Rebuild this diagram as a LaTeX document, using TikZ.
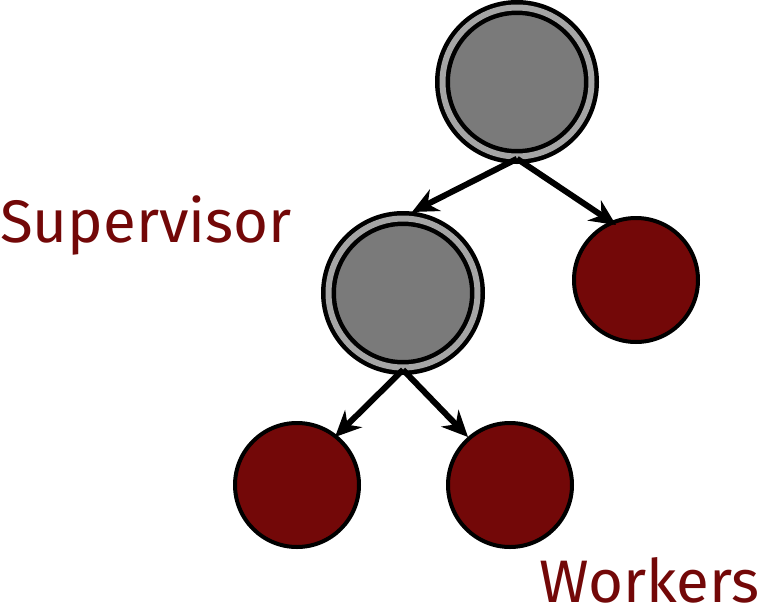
\documentclass[tikz,border=0pt]{standalone}
\usepackage{fontspec}
\setmainfont{Fira Sans}
\usetikzlibrary{arrows.meta}
\definecolor{wred}{RGB}{115,8,8}
\definecolor{sgrey}{RGB}{122,122,122}
\definecolor{sring}{RGB}{165,165,165}
\tikzset{
  supnode/.style={circle, draw=black, fill=sgrey, line width=4.5pt, double=sring, double distance=6pt, minimum size=149pt, inner sep=0pt},
  wrknode/.style={circle, draw=black, fill=wred, line width=4pt, minimum size=124pt, inner sep=0pt},
  link/.style={line width=6pt, -{Stealth[length=26pt,width=24pt]}},
  lbl/.style={text=wred, font=\fontsize{60}{63}\selectfont, inner sep=0pt}
}
\begin{document}
\begin{tikzpicture}[x=1pt, y=-1pt]
\useasboundingbox (0,0) rectangle (764,611);
\node[supnode] (sup0) at (517,82){};
\node[supnode] (sup1) at (403,293){};
\node[wrknode] (wrk0) at (636,280){};
\node[wrknode] (wrk1) at (297,485){};
\node[wrknode] (wrk2) at (510,485){};
\draw[link](sup0.south) -- (412,212);
\draw[link](sup0.south) -- (616,225);
\draw[link](sup1.south) -- (335,437);
\draw[link](sup1.south) -- (468,437);
\node[lbl, anchor=base west] (suplbl) at (0,242){Supervisor};
\node[lbl, anchor=base east] (wrklbl) at (760,602){Workers};
\end{tikzpicture}
\end{document}
